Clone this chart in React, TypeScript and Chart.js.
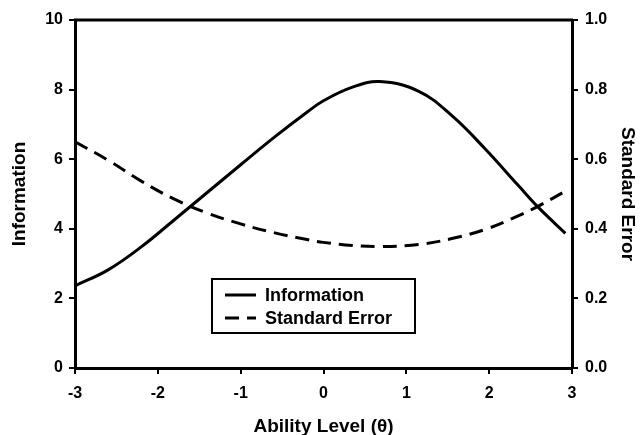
import React, { useEffect, useRef } from "react";
import { Chart, registerables } from "chart.js";

Chart.register(...registerables);

const abilityLevels = [-3, -2.6, -2.2, -1.8, -1.4, -1.0, -0.6, -0.2, 0, 0.35, 0.68, 1.15, 1.55, 1.95, 2.35, 2.6, 2.92];
const informationValues = [2.36, 2.82, 3.48, 4.26, 5.05, 5.84, 6.62, 7.35, 7.68, 8.07, 8.23, 7.95, 7.25, 6.3, 5.25, 4.6, 3.87];
const standardErrorValues = [0.65, 0.597, 0.537, 0.485, 0.445, 0.414, 0.389, 0.369, 0.361, 0.352, 0.349, 0.355, 0.372, 0.398, 0.437, 0.466, 0.508];
const seriesLabels = ["Information", "Standard Error"];
const xTitle = "Ability Level (θ)";
const leftTitle = "Information";
const rightTitle = "Standard Error";

const FONT = "'Liberation Sans', Arial, sans-serif";

const framePlugin = {
  id: "frameAndLegend",
  afterDraw(chart: any) {
    const { ctx, chartArea } = chart;
    ctx.save();
    ctx.strokeStyle = "#000";
    ctx.lineWidth = 3;
    ctx.beginPath();
    ctx.moveTo(chartArea.left - 1, chartArea.top);
    ctx.lineTo(chartArea.right + 1, chartArea.top);
    ctx.stroke();

    const bx = chartArea.left + 137;
    const by = chartArea.top + 259;
    const bw = 203;
    const bh = 54;
    ctx.lineWidth = 2;
    ctx.strokeRect(bx, by, bw, bh);
    const rows = [by + 16, by + 39];
    chart.data.datasets.forEach((ds: any, i: number) => {
      const y = rows[i];
      ctx.beginPath();
      ctx.lineWidth = 3;
      ctx.setLineDash(ds.borderDash || []);
      ctx.moveTo(bx + 13, y);
      ctx.lineTo(bx + 44, y);
      ctx.stroke();
      ctx.setLineDash([]);
      ctx.fillStyle = "#000";
      ctx.font = `bold 18px ${FONT}`;
      ctx.textBaseline = "middle";
      ctx.textAlign = "left";
      ctx.fillText(ds.label, bx + 53, y + 1);
    });
    ctx.restore();
  },
};

export default function App() {
  const ref = useRef<HTMLCanvasElement>(null);
  useEffect(() => {
    if (!ref.current) return;
    const tickFont = { family: FONT, size: 16, weight: "bold" };
    const titleFont = { family: FONT, size: 19, weight: "bold", lineHeight: 1 };
    const grid = { drawOnChartArea: false, drawTicks: true, tickLength: 6, color: "#000", lineWidth: 2 };
    const border = { display: true, color: "#000", width: 3 };
    const chart = new Chart(ref.current, {
      type: "line",
      data: {
        datasets: [
          {
            label: seriesLabels[0],
            data: abilityLevels.map((x, i) => ({ x, y: informationValues[i] })),
            borderColor: "#000",
            borderWidth: 3,
            pointRadius: 0,
            tension: 0.4,
            yAxisID: "y",
          },
          {
            label: seriesLabels[1],
            data: abilityLevels.map((x, i) => ({ x, y: standardErrorValues[i] })),
            borderColor: "#000",
            borderWidth: 3,
            borderDash: [14, 8],
            pointRadius: 0,
            tension: 0.4,
            yAxisID: "y1",
          },
        ],
      },
      options: {
        responsive: false,
        animation: false,
        layout: { padding: { top: 20, left: 0, right: 0, bottom: 0 } },
        plugins: { legend: { display: false }, tooltip: { enabled: false } },
        scales: {
          x: {
            type: "linear",
            min: -3,
            max: 3,
            ticks: { stepSize: 1, color: "#000", font: tickFont, padding: 10, maxRotation: 0 },
            grid,
            border,
            title: { display: true, text: xTitle, color: "#000", font: titleFont, padding: { top: 4, bottom: -1 } },
            afterFit: (s: any) => { s.height = 67; },
          },
          y: {
            position: "left",
            min: 0,
            max: 10,
            ticks: { stepSize: 2, color: "#000", font: tickFont, padding: 6 },
            grid,
            border,
            title: { display: true, text: leftTitle, color: "#000", font: titleFont, padding: { top: 10, bottom: 4 } },
            afterFit: (s: any) => { s.width = 75; },
          },
          y1: {
            position: "right",
            min: 0,
            max: 1,
            ticks: { stepSize: 0.2, color: "#000", font: tickFont, padding: 7, callback: (v: any) => Number(v).toFixed(1) },
            grid,
            border,
            title: { display: true, text: rightTitle, color: "#000", font: titleFont, padding: { top: 4, bottom: 2 } },
            afterFit: (s: any) => { s.width = 69; },
          },
        },
      },
      plugins: [framePlugin],
    } as any);
    return () => chart.destroy();
  }, []);
  return (
    <div style={{ position: "fixed", left: 0, top: 0, width: 641, height: 435, background: "#fff" }}>
      <canvas ref={ref} width={641} height={435} />
    </div>
  );
}
